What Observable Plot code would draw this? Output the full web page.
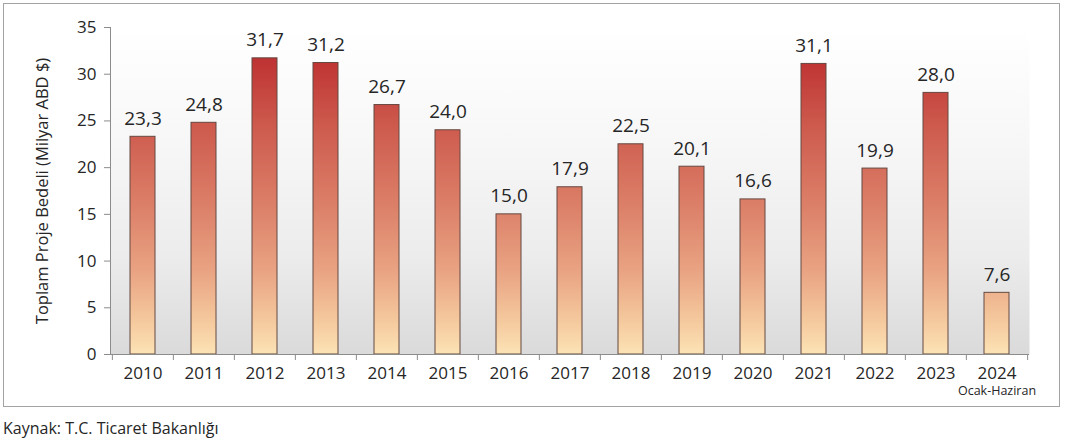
<!DOCTYPE html>
<html><head><meta charset="utf-8">
<script src="https://cdn.jsdelivr.net/npm/d3@7"></script>
<script src="https://cdn.jsdelivr.net/npm/@observablehq/plot@0.6"></script>
<style>
body{margin:0;background:#fff;font-family:"Open Sans",sans-serif;}
#wrap{position:relative;width:1072px;height:445px;overflow:hidden;}
#box{position:absolute;left:3px;top:3px;width:1055px;height:402px;border:1.5px solid #a3a3a3;}
#chart{position:absolute;left:0;top:0;}
#caption{position:absolute;left:3px;top:417px;font-size:16px;color:#262626;font-family:"Open Sans",sans-serif;}
</style></head><body>
<div id="wrap"><div id="box"></div><div id="chart"></div><div id="caption">Kaynak: T.C. Ticaret Bakanlığı</div></div>
<script>
const years = ["2010","2011","2012","2013","2014","2015","2016","2017","2018","2019","2020","2021","2022","2023","2024"];
const values = [23.3, 24.8, 31.7, 31.2, 26.7, 24.0, 15.0, 17.9, 22.5, 20.1, 16.6, 31.1, 19.9, 28.0, 6.6];
const labels = ["23,3","24,8","31,7","31,2","26,7","24,0","15,0","17,9","22,5","20,1","16,6","31,1","19,9","28,0","7,6"];
const yTicks = [0, 5, 10, 15, 20, 25, 30, 35];
const yTitle = "Toplam Proje Bedeli (Milyar ABD $)";
const lastNote = "Ocak-Haziran";

const W = 1072, H = 410, ML = 110, MR = 43, MT = 27, MB = 56;
const step = (W - ML - MR) / years.length;
const data = years.map((y, i) => ({year: y, value: values[i], label: labels[i]}));
const ink = "#262626";

const chart = Plot.plot({
  width: W, height: H,
  marginLeft: ML, marginRight: MR, marginTop: MT, marginBottom: MB,
  style: {background: "transparent", fontFamily: "'Open Sans', sans-serif", color: ink},
  x: {domain: years, paddingInner: 0.587, paddingOuter: 0.2935, axis: null},
  y: {domain: [0, 35], axis: null},
  marks: [
    Plot.frame({fill: "url(#bgGrad)", stroke: null}),
    Plot.barY(data, {x: "year", y: "value", fill: "url(#barGrad)", stroke: "#654840", strokeWidth: 1}),
    Plot.text(data, {x: "year", y: "value", text: "label", lineAnchor: "bottom", dy: -12, fontSize: 19, fill: ink}),
    Plot.frame({anchor: "left", stroke: "#8c8c8c"}),
    Plot.ruleY([0], {stroke: "#8c8c8c"}),
    Plot.ruleX(years, {x: d => d, y1: () => 0, insetBottom: -6, dx: -step / 2, stroke: "#8c8c8c"}),
    Plot.ruleX(years.slice(-1), {x: d => d, y1: () => 0, insetBottom: -6, dx: step / 2, stroke: "#8c8c8c"}),
    Plot.axisY({ticks: yTicks, tickSize: 6, tickPadding: 8, fontSize: 17, stroke: "#8c8c8c", fill: ink, label: null}),
    Plot.axisX({tickSize: 0, tickPadding: 12, fontSize: 17, fill: ink, label: null}),
    Plot.text([yTitle], {frameAnchor: "left", textAnchor: "middle", rotate: -90, dx: -68, fontSize: 16.5, fill: ink}),
    Plot.text([{year: "2024", note: lastNote}], {x: "year", frameAnchor: "bottom", text: "note", dy: 40, fontSize: 12.5, fill: ink})
  ]
});

const svg = d3.select(chart);
const yS = chart.scale("y");
const defs = svg.insert("defs", ":first-child");
const bg = defs.append("linearGradient").attr("id", "bgGrad").attr("x1", 0).attr("x2", 0).attr("y1", 0).attr("y2", 1);
[[0, "#ffffff"], [0.35, "#f7f7f7"], [0.7, "#ececec"], [1, "#dadada"]].forEach(([o, c]) => bg.append("stop").attr("offset", o).attr("stop-color", c));
const bar = defs.append("linearGradient").attr("id", "barGrad").attr("gradientUnits", "userSpaceOnUse")
  .attr("x1", 0).attr("x2", 0).attr("y1", yS.apply(35)).attr("y2", yS.apply(0));
[[0, "#b71f26"], [0.3, "#cd5a4d"], [0.55, "#dc8069"], [0.75, "#e9a483"], [0.9, "#f5c99e"], [1, "#fbe3b5"]].forEach(([o, c]) => bar.append("stop").attr("offset", o).attr("stop-color", c));

document.getElementById("chart").appendChild(chart);
</script>
</body></html>
